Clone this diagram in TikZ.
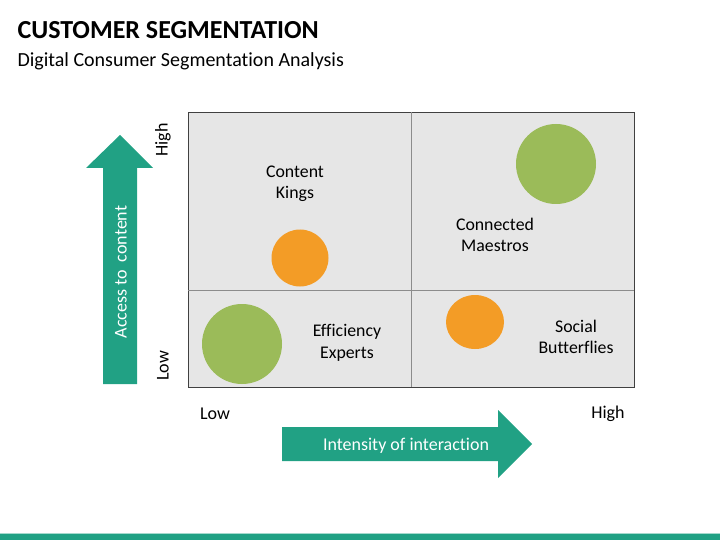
\documentclass[tikz,border=0pt]{standalone}
\usepackage{fontspec}
\usetikzlibrary{shapes.geometric}
\setmainfont[Ligatures=NoCommon]{Carlito}
\definecolor{teal1}{HTML}{21A184}
\definecolor{grn}{HTML}{9BBB59}
\definecolor{orng}{HTML}{F39C26}
\definecolor{boxgray}{HTML}{E6E6E6}

\begin{document}
\begin{tikzpicture}[x=1pt,y=-1pt,
  blob/.style={circle,inner sep=0pt},
  seg label/.style={align=center,font=\fontsize{17.8}{21.5}\selectfont},
  axis label/.style={font=\fontsize{18}{21}\selectfont}]

  \useasboundingbox (0,0) rectangle (720,540);

  % title
  \node[anchor=west,font=\fontsize{26}{30}\selectfont\bfseries] (title) at (14,30) {CUSTOMER SEGMENTATION};
  \node[anchor=west,font=\fontsize{20}{24}\selectfont] (sub) at (14,61) {Digital Consumer Segmentation Analysis};

  % matrix
  \draw[fill=boxgray,draw=black!75,thick] (188,112) rectangle (634,387);
  \draw[black!45,thick] (411,112) -- (411,387);
  \draw[black!45,thick] (188,290) -- (634,290);

  % circles
  \node[blob,fill=orng,minimum size=57pt] (kings) at (300,258) {};
  \node[blob,fill=grn,minimum size=80pt] (maestros) at (556,164) {};
  \node[blob,fill=grn,minimum size=80pt] (experts) at (242,344) {};
  \node[ellipse,inner sep=0pt,fill=orng,minimum width=58pt,minimum height=54pt] (butterflies) at (475,322) {};

  \node[seg label] (l1) at (295,184) {Content\\Kings};
  \node[seg label] (l2) at (495,235) {Connected\\Maestros};
  \node[seg label] (l3) at (347,343) {Efficiency\\Experts};
  \node[seg label] (l4) at (576,337) {Social\\Butterflies};

  % vertical arrow
  \fill[teal1] (103,384) -- (103,168) -- (86,168) -- (120,135) -- (153,168) -- (137,168) -- (137,384) -- cycle;
  \node[rotate=90,text=white,axis label] (access) at (121,272) {Access to\ \ content};
  \node[rotate=90,axis label] (vhigh) at (163,140) {High};
  \node[rotate=90,axis label] (vlow) at (163,366) {Low};

  % horizontal arrow
  \fill[teal1] (282,427) -- (498,427) -- (498,410) -- (532,444) -- (498,478) -- (498,461) -- (282,461) -- cycle;
  \node[text=white,axis label] (intens) at (406,446) {Intensity of interaction};
  \node[axis label] (hlow) at (215,414) {Low};
  \node[axis label] (hhigh) at (608,414) {High};

  % bottom bar
  \fill[teal1] (0,534) rectangle (720,540);
  \draw[teal1!40,thin] (0,533.3) -- (720,533.3);
\end{tikzpicture}
\end{document}
